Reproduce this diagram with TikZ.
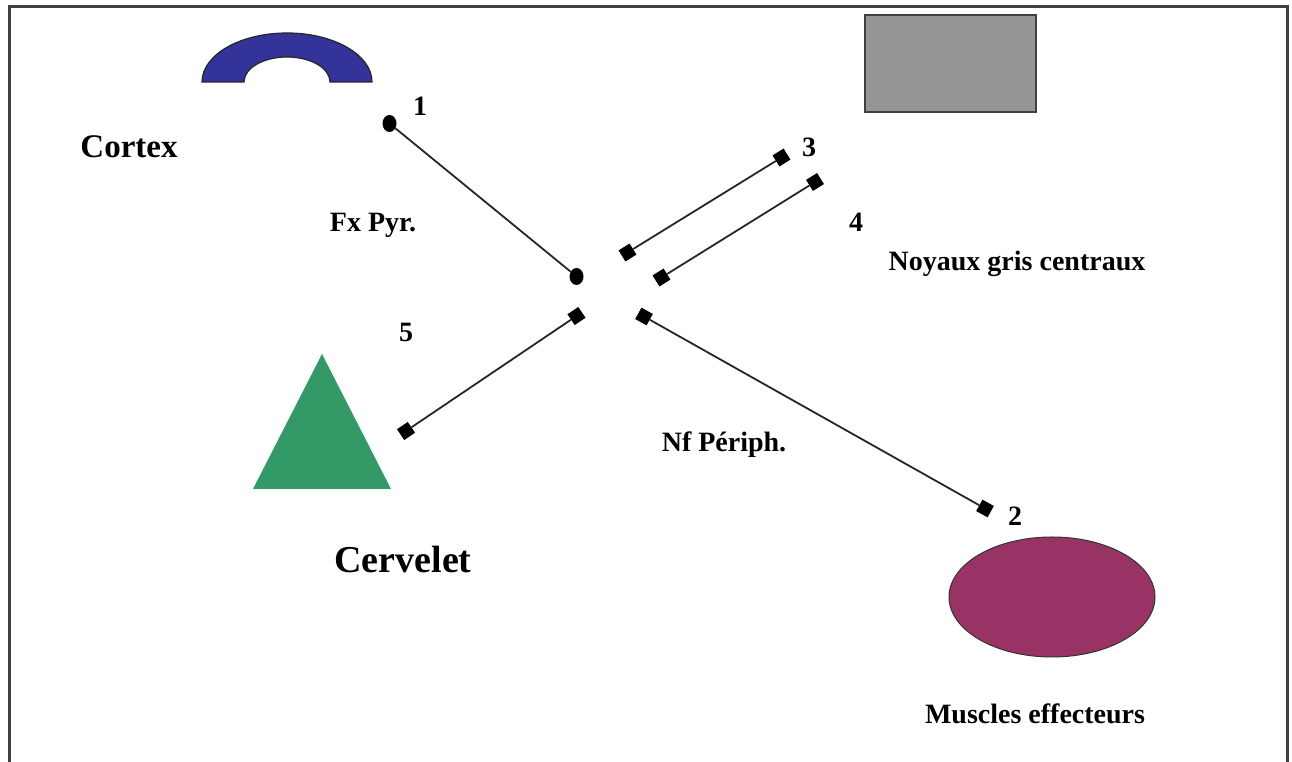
\documentclass[tikz,border=0pt]{standalone}
\usepackage{fontspec}
\setmainfont{Liberation Serif}
\usetikzlibrary{shapes.geometric}
\definecolor{cortexblue}{HTML}{333399}
\definecolor{nucgray}{HTML}{969696}
\definecolor{cbgreen}{HTML}{339966}
\definecolor{musclered}{HTML}{993366}
\tikzset{
  lbl/.style={inner sep=0pt, anchor=base, font=\bfseries\fontsize{28}{30}\selectfont},
  dotend/.style={ellipse, fill=black, draw=none, minimum width=14pt, minimum height=17pt, inner sep=0pt},
  sqend/.style={rectangle, fill=black, draw=none, minimum size=13pt, inner sep=0pt},
  fiber/.style={line width=1.8pt, black!85},
}
\begin{document}
\begin{tikzpicture}[x=1pt,y=1pt]
\useasboundingbox (0,0) rectangle (1292,762);
% frame (open at bottom)
\draw[line width=3pt, black!75] (9,-5) -- (9,755) -- (1287,755) -- (1287,-5);

% cortex arc
\filldraw[fill=cortexblue, draw=black!85, line width=1.2pt]
  (202pt,680pt) arc[start angle=180, end angle=0, x radius=85pt, y radius=49pt]
  -- (330pt,680pt) arc[start angle=0, end angle=180, x radius=43pt, y radius=25pt] -- cycle;
% noyaux gris rectangle
\filldraw[fill=nucgray, draw=black!75, line width=1.5pt] (865,650) rectangle (1036,747);
% cervelet triangle
\fill[cbgreen] (322,408) -- (391,273) -- (253,273) -- cycle;
% muscle ellipse
\filldraw[fill=musclered, draw=black!80, line width=1pt] (1052,165) ellipse[x radius=103pt, y radius=60pt];

% end markers
\node[dotend] (d1a) at (389.5,638.5) {};
\node[dotend] (d1b) at (576.5,485.5) {};
\node[sqend, rotate=32] (s3a) at (781.5,604.5) {};
\node[sqend, rotate=32] (s3b) at (627.5,509.5) {};
\node[sqend, rotate=32] (s4a) at (815,580) {};
\node[sqend, rotate=32] (s4b) at (661.5,484.5) {};
\node[sqend, rotate=34] (s5a) at (576.5,446) {};
\node[sqend, rotate=34] (s5b) at (406,331) {};
\node[sqend, rotate=-29] (s2a) at (644,445.5) {};
\node[sqend, rotate=-29] (s2b) at (985,253.5) {};

% fibers
\draw[fiber] (d1a) -- (d1b);
\draw[fiber] (s3a) -- (s3b);
\draw[fiber] (s4a) -- (s4b);
\draw[fiber] (s5a) -- (s5b);
\draw[fiber] (s2a) -- (s2b);

% labels
\node[lbl] (n1) at (420,646) {1};
\node[lbl] (n3) at (809,605) {3};
\node[lbl] (n4) at (856,530) {4};
\node[lbl] (n5) at (406,420) {5};
\node[lbl] (n2) at (1015,236) {2};
\node[lbl, font=\bfseries\fontsize{33}{36}\selectfont] (cortex) at (129,604) {Cortex};
\node[lbl, font=\bfseries\fontsize{38}{40}\selectfont] (cervelet) at (403,189) {Cervelet};
\node[lbl] (fx) at (373,530) {Fx Pyr.};
\node[lbl] (ngc) at (1017,491) {Noyaux gris centraux};
\node[lbl] (nf) at (724,310) {Nf Périph.};
\node[lbl] (mus) at (1035,38) {Muscles effecteurs};
\end{tikzpicture}
\end{document}
